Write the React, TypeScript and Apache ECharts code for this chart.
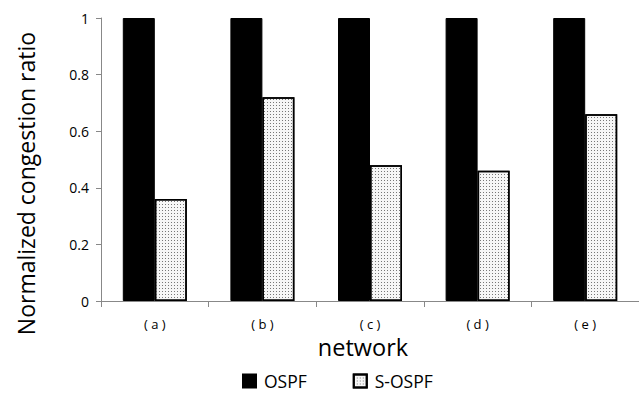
import React, { useEffect, useRef } from "react";
import * as echarts from "echarts";

const categories = ["( a )", "( b )", "( c )", "( d )", "( e )"];
const ospf = [1, 1, 1, 1, 1];
const sospf = [0.36, 0.72, 0.48, 0.46, 0.66];
const yTicks = [0, 0.2, 0.4, 0.6, 0.8, 1];

const FONT = "'Open Sans', 'DejaVu Sans', sans-serif";

export default function App() {
  const ref = useRef<HTMLDivElement>(null);
  useEffect(() => {
    if (!ref.current) return;
    const chart = echarts.init(ref.current, undefined, { renderer: "svg" });
    chart.setOption({
      animation: false,
      backgroundColor: "#fff",
      textStyle: { fontFamily: FONT },
      grid: { left: 101, top: 18, width: 545, height: 283, containLabel: false },
      legend: {
        data: ["OSPF", "S-OSPF"],
        left: 237,
        top: 370,
        padding: [2, 5, 0, 5],
        icon: "rect",
        itemWidth: 13,
        itemHeight: 13,
        itemGap: 46,
        textStyle: { fontSize: 17.5, lineHeight: 18, color: "#000", fontFamily: FONT, padding: [0, 0, 0, 3] },
      },
      xAxis: {
        type: "category",
        data: categories,
        name: "network",
        nameLocation: "middle",
        nameGap: 34,
        nameTextStyle: { fontSize: 23.5, color: "#000", fontFamily: FONT, padding: [0, 14, 0, 0] },
        axisLine: { lineStyle: { color: "#888" } },
        axisTick: { show: true, length: 6, lineStyle: { color: "#888" } },
        axisLabel: { fontSize: 13, color: "#000", margin: 16, fontFamily: FONT },
      },
      yAxis: {
        type: "value",
        min: 0,
        max: 1,
        interval: 0.2,
        name: "Normalized congestion ratio",
        nameLocation: "middle",
        nameGap: 64,
        nameTextStyle: { fontSize: 23, color: "#000", fontFamily: FONT, padding: [0, 48, 0, 0] },
        splitLine: { show: false },
        axisLine: { show: true, lineStyle: { color: "#888" } },
        axisTick: { show: true, length: 5, lineStyle: { color: "#888" } },
        axisLabel: {
          fontSize: 14,
          color: "#000",
          margin: 12,
          fontFamily: FONT,
          formatter: (v: number) => (yTicks.some((t) => Math.abs(t - v) < 1e-9) ? String(+v.toFixed(1)) : ""),
        },
      },
      series: [
        {
          name: "OSPF",
          type: "bar",
          data: ospf,
          barWidth: 32,
          barGap: "0%",
          itemStyle: { color: "#000", borderColor: "#000", borderWidth: 1 },
        },
        {
          name: "S-OSPF",
          type: "bar",
          data: sospf,
          barWidth: 32,
          itemStyle: {
            color: "#f6f6f6",
            borderColor: "#000",
            borderWidth: 1.5,
            decal: {
              symbol: "rect",
              symbolSize: 1,
              color: "#777",
              dashArrayX: [1, 2],
              dashArrayY: [1, 2],
              rotation: 0,
            },
          },
        },
      ],
    });
    return () => chart.dispose();
  }, []);
  return <div ref={ref} style={{ width: 639, height: 393, position: "absolute", left: 0, top: 0 }} />;
}
